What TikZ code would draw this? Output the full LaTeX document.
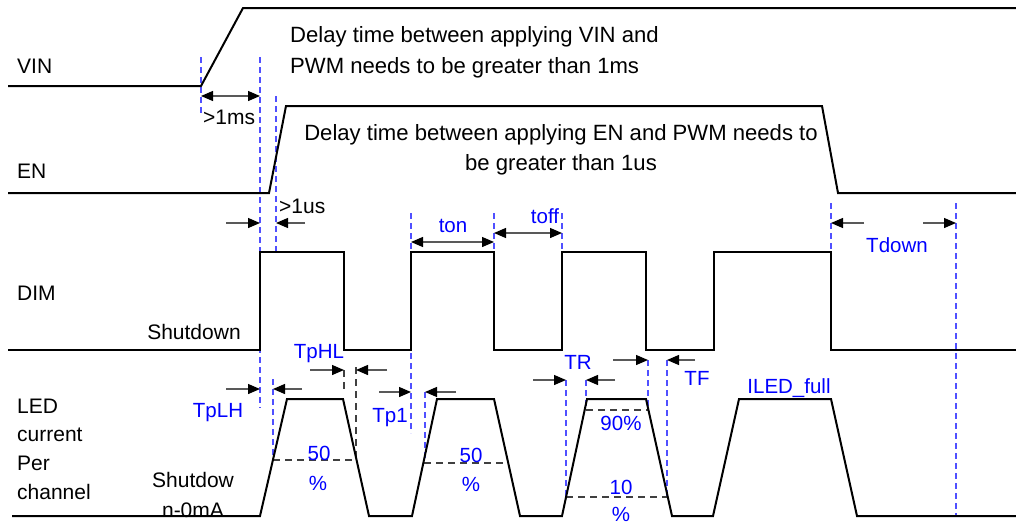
\documentclass[tikz,border=0pt]{standalone}
\usepackage{fontspec}
\setmainfont{Liberation Sans}
\usetikzlibrary{arrows.meta}
\definecolor{guideblue}{RGB}{80,80,255}
\definecolor{tblue}{RGB}{0,0,255}
\tikzstyle{wave}=[line width=2pt,
                  draw=black,
                  line join=miter]
\tikzstyle{guide}=[draw=guideblue,
                   line width=1.3pt,
                   dash pattern=on 6pt off 4pt]
\tikzstyle{level}=[draw=black!75,
                   line width=1.3pt,
                   dash pattern=on 7pt off 5pt]
\tikzstyle{meas}=[draw=black!65,
                  line width=1.3pt]
\tikzstyle{sig}=[font=\fontsize{21}{25}\selectfont,
                 inner sep=0pt]
\tikzstyle{note}=[font=\fontsize{22.1}{30}\selectfont,
                  inner sep=0pt]
\tikzstyle{tm}=[font=\fontsize{20.5}{24}\selectfont,
                text=tblue,
                inner sep=0pt]

\begin{document}
\begin{tikzpicture}[x=1pt,y=-1pt,>={Triangle[length=12pt,width=10pt,color=black]}]
\useasboundingbox (0,0) rectangle (1016,525);

% guide lines
\draw[guide] (201,57) -- (201,115);
\draw[guide] (260,57) -- (260,408);
\draw[guide] (276,96) -- (276,252);
\draw[guide] (411,213) -- (411,433);
\draw[guide] (494,213) -- (494,252);
\draw[guide] (562,213) -- (562,252);
\draw[guide] (831,203) -- (831,252);
\draw[guide] (956,203) -- (956,516);
\draw[guide] (273,379) -- (273,460);
\draw[guide] (425,392) -- (425,463);
\draw[guide] (566,380) -- (566,497);
\draw[guide] (586,380) -- (586,410);
\draw[guide] (648,360) -- (648,410);
\draw[guide] (667,360) -- (667,497);
\draw[level] (344,370) -- (344,389);
\draw[level] (356,367) -- (356,460);

% levels
\draw[level] (273,460) -- (356,460);
\draw[level] (424,463) -- (508,463);
\draw[level] (586,410) -- (648,410);
\draw[level] (566,497) -- (667,497);

% waveforms
\draw[wave] (8,86) -- (201,86) -- (243,8) -- (1016,8);
\draw[wave] (8,193) -- (269,193) -- (286,106) -- (822,106) -- (838,193) -- (1016,193);
\draw[wave] (8,350) -- (260,350) -- (260,252) -- (344,252) -- (344,350) -- (411,350)
  -- (411,252) -- (494,252) -- (494,350) -- (562,350) -- (562,252) -- (646,252)
  -- (646,350) -- (714,350) -- (714,252) -- (831,252) -- (831,350) -- (1016,350);
\draw[wave] (12,516) -- (260,516) -- (287,399) -- (343,399) -- (369,516) -- (412,516)
  -- (437,399) -- (494,399) -- (520,516) -- (562,516) -- (587,399) -- (646,399)
  -- (672,516) -- (713,516) -- (739,399) -- (831,399) -- (857,516) -- (1016,516);

% timing arrows
\draw[meas,<->] (201,96) -- (260,96);
\draw[meas,->] (226,223) -- (260,223);
\draw[meas,->] (305,223) -- (276,223);
\draw[meas,<->] (411,242) -- (494,242);
\draw[meas,<->] (494,233) -- (562,233);
\draw[meas,->] (864,223) -- (831,223);
\draw[meas,->] (923,223) -- (956,223);
\draw[meas,->] (226,389) -- (260,389);
\draw[meas,->] (302,389) -- (273,389);
\draw[meas,->] (310,370) -- (344,370);
\draw[meas,->] (387,370) -- (356,370);
\draw[meas,->] (379,392) -- (411,392);
\draw[meas,->] (456,392) -- (425,392);
\draw[meas,->] (533,380) -- (566,380);
\draw[meas,->] (615,380) -- (586,380);
\draw[meas,->] (613,360) -- (648,360);
\draw[meas,->] (695,360) -- (667,360);

% signal names
\node[sig,anchor=base west] (vinlbl) at (17,73) {VIN};
\node[sig,anchor=base west] (enlbl) at (17,178) {EN};
\node[sig,anchor=base west] (dimlbl) at (17,300) {DIM};
\node[sig,anchor=base west] (ledlbla) at (17,413) {LED};
\node[sig,anchor=base west] (ledlblb) at (17,441) {current};
\node[sig,anchor=base west] (ledlblc) at (17,470) {Per};
\node[sig,anchor=base west] (ledlbld) at (17,499) {channel};

% notes
\node[note,anchor=base west] (vinnotea) at (290,42) {Delay time between applying VIN and};
\node[note,anchor=base west] (vinnoteb) at (290,73) {PWM needs to be greater than 1ms};
\node[note,anchor=base] (ennotea) at (561,140) {Delay time between applying EN and PWM needs to};
\node[note,anchor=base] (ennoteb) at (561,170) {be greater than 1us};
\node[sig,anchor=base west] (msdelay) at (203,124) {>1ms};
\node[sig,anchor=base west] (usdelay) at (279,213) {>1us};
\node[sig,anchor=base] (dimoff) at (194,339) {Shutdown};
\node[sig,anchor=base] (ledoffa) at (193,487) {Shutdow};
\node[sig,anchor=base] (ledoffb) at (193,517) {n-0mA};

% timing labels
\node[tm,anchor=base] (ton) at (453,232) {ton};
\node[tm,anchor=base] (toff) at (545,223) {toff};
\node[tm,anchor=base] (tdown) at (897,252) {Tdown};
\node[tm,anchor=base] (tphl) at (319,358) {TpHL};
\node[tm,anchor=base] (tplh) at (218,417) {TpLH};
\node[tm,anchor=base] (tpone) at (390,422) {Tp1};
\node[tm,anchor=base] (halfa) at (319,460) {50};
\node[tm,anchor=base] (halfapct) at (318,490) {\%};
\node[tm,anchor=base] (halfb) at (471,462) {50};
\node[tm,anchor=base] (halfbpct) at (471,491) {\%};
\node[tm,anchor=base] (ninety) at (621,430) {90\%};
\node[tm,anchor=base] (ten) at (621,494) {10};
\node[tm,anchor=base] (tenpct) at (621,521) {\%};
\node[tm,anchor=base] (trise) at (578,369) {TR};
\node[tm,anchor=base] (tfall) at (697,385) {TF};
\node[tm,anchor=base] (iledfull) at (789,393) {ILED\_full};

\end{tikzpicture}
\end{document}
